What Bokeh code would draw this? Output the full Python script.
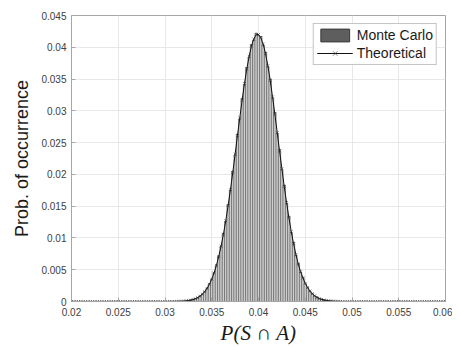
import numpy as np
from bokeh.plotting import figure
from bokeh.models import Range1d, FixedTicker, Legend, LegendItem
from bokeh.embed import file_html
from bokeh.resources import INLINE

# ---- tick positions and labels ----
x_ticks = [0.02, 0.025, 0.03, 0.035, 0.04, 0.045, 0.05, 0.055, 0.06]
x_tick_labels = ["0.02", "0.025", "0.03", "0.035", "0.04", "0.045", "0.05", "0.055", "0.06"]
y_ticks = [0, 0.005, 0.01, 0.015, 0.02, 0.025, 0.03, 0.035, 0.04, 0.045]
y_tick_labels = ["0", "0.005", "0.01", "0.015", "0.02", "0.025", "0.03", "0.035", "0.04", "0.045"]

# ---- Theoretical curve (x grid 0.02 .. 0.06, step 0.00025) ----
theory_x = np.linspace(0.02, 0.06, 161)
theory_y = [
    0, 0, 0, 0, 0, 0, 0, 0, 0, 0,
    0, 0, 0, 0, 0, 0, 0, 0, 0, 0,
    0, 0, 0, 0, 0, 0, 0, 0, 0, 0,
    0, 0, 0, 0, 0, 0, 0, 0, 0, 0,
    0.0, 0.0, 0.000005, 0.000007, 0.000012, 0.000018, 0.000029, 0.000044, 0.000066, 0.000099,
    0.00015, 0.00021, 0.00031, 0.00044, 0.00061, 0.00084, 0.00115, 0.00155, 0.00207, 0.00271,
    0.00352, 0.0045, 0.00568, 0.00709, 0.00873, 0.0106, 0.0127, 0.0151, 0.0176, 0.0203,
    0.0232, 0.0261, 0.0289, 0.0317, 0.0343, 0.0366, 0.0386, 0.0402, 0.0413, 0.0420,
    0.0420, 0.0415, 0.0405, 0.0390, 0.0371, 0.0348, 0.0322, 0.0295, 0.0266, 0.0237,
    0.0209, 0.0181, 0.0156, 0.0132, 0.0110, 0.0091, 0.0074, 0.0059, 0.0047, 0.0037,
    0.00286, 0.00218, 0.00165, 0.00123, 0.0009, 0.00065, 0.00047, 0.00033, 0.00023, 0.00016,
    0.00011, 0.00007, 0.00005, 0.00003, 0.00002, 0.00001, 0.0, 0.0, 0.0, 0.0,
    0.0,
    0, 0, 0, 0, 0, 0, 0, 0, 0, 0,
    0, 0, 0, 0, 0, 0, 0, 0, 0, 0,
    0, 0, 0, 0, 0, 0, 0, 0, 0, 0,
    0, 0, 0, 0, 0, 0, 0, 0, 0, 0,
]

# ---- Monte Carlo histogram (bin centres 0.0325 .. 0.0475, step 0.00025) ----
mc_x = np.linspace(0.0325, 0.0475, 61)
mc_y = [
    0.00014, 0.00022, 0.00030, 0.00046, 0.00060, 0.00086, 0.00112, 0.00158, 0.00204, 0.00275,
    0.00348, 0.00455, 0.00562, 0.00715, 0.00866, 0.0107, 0.0126, 0.0152, 0.0175, 0.0205,
    0.0230, 0.0263, 0.0287, 0.0319, 0.0341, 0.0368, 0.0384, 0.0404, 0.0411, 0.0422,
    0.0418, 0.0417, 0.0403, 0.0392, 0.0369, 0.0350, 0.0320, 0.0297, 0.0264, 0.0239,
    0.0207, 0.0183, 0.0154, 0.0134, 0.0108, 0.0093, 0.0072, 0.0060, 0.0046, 0.0038,
    0.00280, 0.00222, 0.00160, 0.00126, 0.00087, 0.00067, 0.00045, 0.00034, 0.00022, 0.00017,
    0.00010,
]
bin_width = 0.00025

p = figure(
    width=452, height=347,
    output_backend="svg", toolbar_location=None,
    x_range=Range1d(0.02, 0.06), y_range=Range1d(0, 0.045),
    min_border_left=71, min_border_right=7, min_border_top=15, min_border_bottom=45,
    background_fill_color="white", border_fill_color="white",
)
p.outline_line_color = "#a6a6a6"
p.outline_line_width = 1

# grid
p.xgrid.grid_line_color = "#e8e8e8"
p.ygrid.grid_line_color = "#e8e8e8"

# axes
for ax in (p.xaxis[0], p.yaxis[0]):
    ax.axis_line_color = "#a6a6a6"
    ax.major_tick_line_color = "#a6a6a6"
    ax.major_tick_in = 4
    ax.major_tick_out = 0
    ax.minor_tick_line_color = None
    ax.major_label_text_font = "Liberation Sans"
    ax.major_label_text_font_size = "10px"
    ax.major_label_text_color = "#404040"
    ax.axis_label_text_font_style = "normal"

p.xaxis[0].ticker = FixedTicker(ticks=x_ticks)
p.xaxis[0].major_label_overrides = dict(zip(x_ticks, x_tick_labels))
p.yaxis[0].ticker = FixedTicker(ticks=y_ticks)
p.yaxis[0].major_label_overrides = dict(zip(y_ticks, y_tick_labels))
p.xaxis[0].major_label_standoff = 6
p.yaxis[0].major_label_standoff = 5

p.xaxis[0].axis_label = "P(S \u2229 A)"
p.xaxis[0].axis_label_text_font = "Liberation Serif"
p.xaxis[0].axis_label_text_font_style = "italic"
p.xaxis[0].axis_label_text_font_size = "21px"
p.xaxis[0].axis_label_text_color = "#1a1a1a"
p.xaxis[0].axis_label_standoff = 2

p.yaxis[0].axis_label = "Prob. of occurrence"
p.yaxis[0].axis_label_text_font = "Liberation Sans"
p.yaxis[0].axis_label_text_font_size = "18px"
p.yaxis[0].axis_label_text_color = "#1a1a1a"
p.yaxis[0].axis_label_standoff = 6

# Monte Carlo bars: dark swatch renderer (used for legend) under the visible bars
legend_bar = p.vbar(x=mc_x, top=mc_y, width=bin_width * 0.6, bottom=0,
                    fill_color="#5e5e5e", line_color="#3a3a3a", line_width=1)
p.vbar(x=mc_x, top=mc_y, width=bin_width, bottom=0,
       fill_color="#cfcfcf", line_color="#4a4a4a", line_width=0.45)

# Theoretical curve
line_r = p.line(theory_x, theory_y, line_color="#111111", line_width=1)
mark_r = p.scatter(theory_x, theory_y, marker="x", size=4,
                   line_color="#333333", line_width=0.6)

legend = Legend(items=[
    LegendItem(label="Monte Carlo", renderers=[legend_bar]),
    LegendItem(label="Theoretical", renderers=[line_r, mark_r]),
], location="top_right")
legend.label_text_font = "Liberation Sans"
legend.label_text_font_size = "14px"
legend.label_text_color = "#1a1a1a"
legend.glyph_width = 36
legend.glyph_height = 16
legend.spacing = 2
legend.padding = 3
legend.margin = 8
legend.label_standoff = 4
legend.label_height = 16
legend.border_line_color = "#8c8c8c"
legend.border_line_width = 1
legend.background_fill_color = "white"
legend.background_fill_alpha = 1.0
p.add_layout(legend)

open("out.html", "w").write(file_html(p, INLINE))
